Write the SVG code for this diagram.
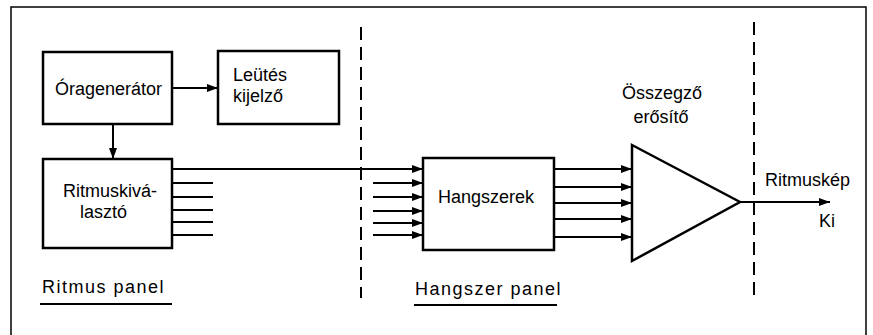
<svg xmlns="http://www.w3.org/2000/svg" width="873" height="335" viewBox="0 0 873 335">
<style>
.box{fill:#fff;stroke:#000;stroke-width:2.5}
.ln{fill:none;stroke:#000;stroke-width:2}
.dash{fill:none;stroke:#000;stroke-width:2;stroke-dasharray:13 7}
text{font-family:"Liberation Sans",Arial,sans-serif;font-size:18px;fill:#000}
.lbl{letter-spacing:1.5px}
</style>
<defs>
<marker id="ah" markerUnits="userSpaceOnUse" markerWidth="12" markerHeight="8" refX="11" refY="4" orient="auto">
<path d="M0,0 L11,4 L0,8 z" fill="#000"/>
</marker>
</defs>
<rect width="873" height="335" fill="#fff"/>
<path d="M11,340 L11,7 L866,7 L866,340" fill="none" stroke="#000" stroke-width="1.5"/>
<line class="dash" x1="361" y1="27" x2="361" y2="298"/>
<line class="dash" x1="754" y1="22" x2="754" y2="298"/>
<g id="connectors">
<line class="ln" x1="172" y1="88" x2="218" y2="88" marker-end="url(#ah)"/>
<line class="ln" x1="113" y1="124" x2="113" y2="159" marker-end="url(#ah)"/>
<line class="ln" x1="172" y1="169" x2="423" y2="169" marker-end="url(#ah)"/>
<line class="ln" x1="172" y1="183" x2="213" y2="183"/>
<line class="ln" x1="172" y1="197" x2="213" y2="197"/>
<line class="ln" x1="172" y1="210" x2="213" y2="210"/>
<line class="ln" x1="172" y1="222" x2="213" y2="222"/>
<line class="ln" x1="172" y1="235" x2="213" y2="235"/>
<line class="ln" x1="373" y1="183" x2="423" y2="183" marker-end="url(#ah)"/>
<line class="ln" x1="373" y1="197" x2="423" y2="197" marker-end="url(#ah)"/>
<line class="ln" x1="373" y1="211" x2="423" y2="211" marker-end="url(#ah)"/>
<line class="ln" x1="373" y1="223" x2="423" y2="223" marker-end="url(#ah)"/>
<line class="ln" x1="373" y1="235" x2="423" y2="235" marker-end="url(#ah)"/>
<line class="ln" x1="554" y1="169" x2="632" y2="169" marker-end="url(#ah)"/>
<line class="ln" x1="554" y1="187" x2="632" y2="187" marker-end="url(#ah)"/>
<line class="ln" x1="554" y1="203" x2="632" y2="203" marker-end="url(#ah)"/>
<line class="ln" x1="554" y1="219" x2="632" y2="219" marker-end="url(#ah)"/>
<line class="ln" x1="554" y1="237" x2="632" y2="237" marker-end="url(#ah)"/>
<line class="ln" x1="740" y1="202" x2="830" y2="202" marker-end="url(#ah)"/>
</g>
<g id="oragenerator">
<rect class="box" x="43" y="52" width="129" height="72"/>
<text x="55" y="95">Óragenerátor</text>
</g>
<g id="leutes">
<rect class="box" x="218" y="51" width="121" height="73"/>
<text x="233" y="81">Leütés</text>
<text x="233" y="102">kijelző</text>
</g>
<g id="ritmuskivalaszto">
<rect class="box" x="43" y="159" width="129" height="89"/>
<text x="63" y="197">Ritmuskivá-</text>
<text x="80" y="218">lasztó</text>
</g>
<g id="hangszerek">
<rect class="box" x="423" y="158" width="131" height="92"/>
<text x="438" y="203">Hangszerek</text>
</g>
<g id="osszegzo">
<polygon class="box" points="632,145 740,202 632,261"/>
<text x="662" y="99" text-anchor="middle">Összegző</text>
<text x="661" y="123" text-anchor="middle">erősítő</text>
</g>
<g id="kimenet">
<text x="765" y="186">Ritmuskép</text>
<text x="819" y="227">Ki</text>
</g>
<g id="ritmus-panel">
<text class="lbl" x="42" y="293">Ritmus panel</text>
<line x1="40" y1="304" x2="172" y2="304" stroke="#000" stroke-width="2"/>
</g>
<g id="hangszer-panel">
<text class="lbl" x="415" y="295">Hangszer panel</text>
<line x1="414" y1="305" x2="557" y2="305" stroke="#000" stroke-width="2"/>
</g>
</svg>
